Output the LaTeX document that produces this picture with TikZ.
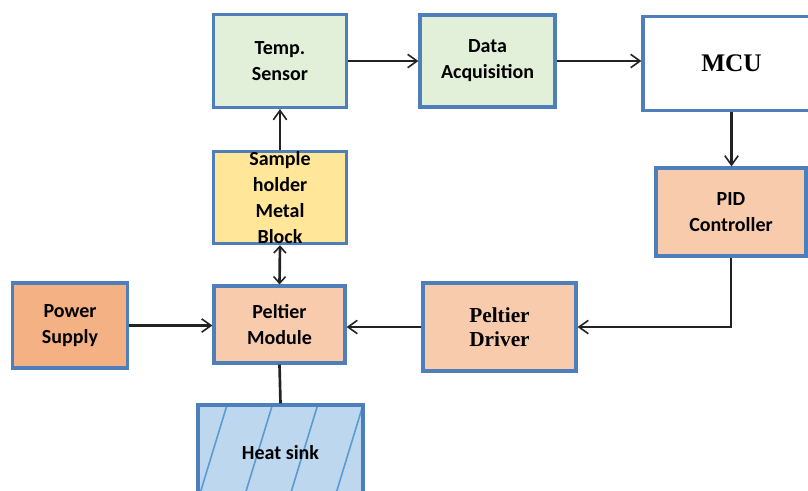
\documentclass[tikz,border=0pt]{standalone}
\usepackage{fontspec}
\setmainfont{Carlito}
\newfontfamily\serifb{Liberation Serif}
\usetikzlibrary{arrows.meta}
\definecolor{bord}{HTML}{4F7FBA}
\definecolor{greenf}{HTML}{E2EFD9}
\definecolor{yellowf}{HTML}{FFE699}
\definecolor{orangef}{HTML}{F4B183}
\definecolor{peachf}{HTML}{F8CBAD}
\definecolor{bluef}{HTML}{BDD7EE}
\definecolor{hatchc}{HTML}{5B9BD5}
\definecolor{conn}{HTML}{222222}
\begin{document}
\begin{tikzpicture}[x=0.75pt,y=-0.75pt,
  blk/.style={draw=bord, line width=2.4pt, align=center, inner sep=0pt,
    font=\fontsize{15}{19.5}\selectfont\bfseries},
  arr/.style={draw=conn, line width=2pt, -{Straight Barb[length=7pt,width=10pt,line width=1.2pt]}},
  dbl/.style={draw=conn, line width=2pt, {Straight Barb[length=5pt,width=9pt,line width=1.2pt]}-{Straight Barb[length=5pt,width=9pt,line width=1.2pt]}},
  plain/.style={draw=conn, line width=2pt}]
\useasboundingbox (0,0) rectangle (808,490);
\node[blk, fill=greenf, minimum width=99.75pt, minimum height=69.75pt] (temp) at (280,61) {Temp.\\Sensor};
\node[blk, fill=greenf, minimum width=101.25pt, minimum height=69pt] (daq) at (487.5,61) {Data\\Acquisition};
\node[blk, fill=white, minimum width=132.75pt, minimum height=70.5pt, font=\fontsize{19}{22}\selectfont\serifb\bfseries] (mcu) at (731.5,63.5) {MCU};
\node[blk, fill=peachf, minimum width=112.5pt, minimum height=66pt] (pid) at (731,212) {PID\\Controller};
\node[blk, fill=yellowf, minimum width=99.75pt, minimum height=68.25pt] (sample) at (280,197.5) {Sample\\holder\\Metal\\Block};
\node[blk, fill=orangef, minimum width=86.25pt, minimum height=63.75pt] (power) at (70,325.5) {Power\\Supply};
\node[blk, fill=peachf, minimum width=98.25pt, minimum height=57.75pt] (pmod) at (279.5,324.5) {Peltier\\Module};
\node[blk, fill=peachf, minimum width=114.75pt, minimum height=66pt, font=\fontsize{16}{18}\selectfont\serifb\bfseries] (pdrv) at (499.5,327) {Peltier\\Driver};
\node[blk, fill=bluef, minimum width=123.75pt, minimum height=71.25pt,
  path picture={\foreach \i in {-3,...,5}
    \draw[hatchc, line width=1.2pt] ([xshift=\i*34pt]path picture bounding box.south west) -- ++(22pt,72pt);}] (heat) at (280.5,452.5) {Heat sink};
\draw[arr] (temp.east) -- (daq.west);
\draw[arr] (daq.east) -- (daq.east -| mcu.west);
\draw[arr] (mcu.south) -- (mcu.south |- pid.north);
\draw[arr] (pid.south) |- (pdrv.east);
\draw[arr] (pdrv.west) -- (pdrv.west -| pmod.east);
\draw[arr] (power.east) -- (power.east -| pmod.west);
\draw[arr] (sample.north) -- (temp.south);
\draw[dbl] (pmod.north) -- (sample.south);
\draw[plain] (pmod.south) -- (heat.north);
\end{tikzpicture}
\end{document}
